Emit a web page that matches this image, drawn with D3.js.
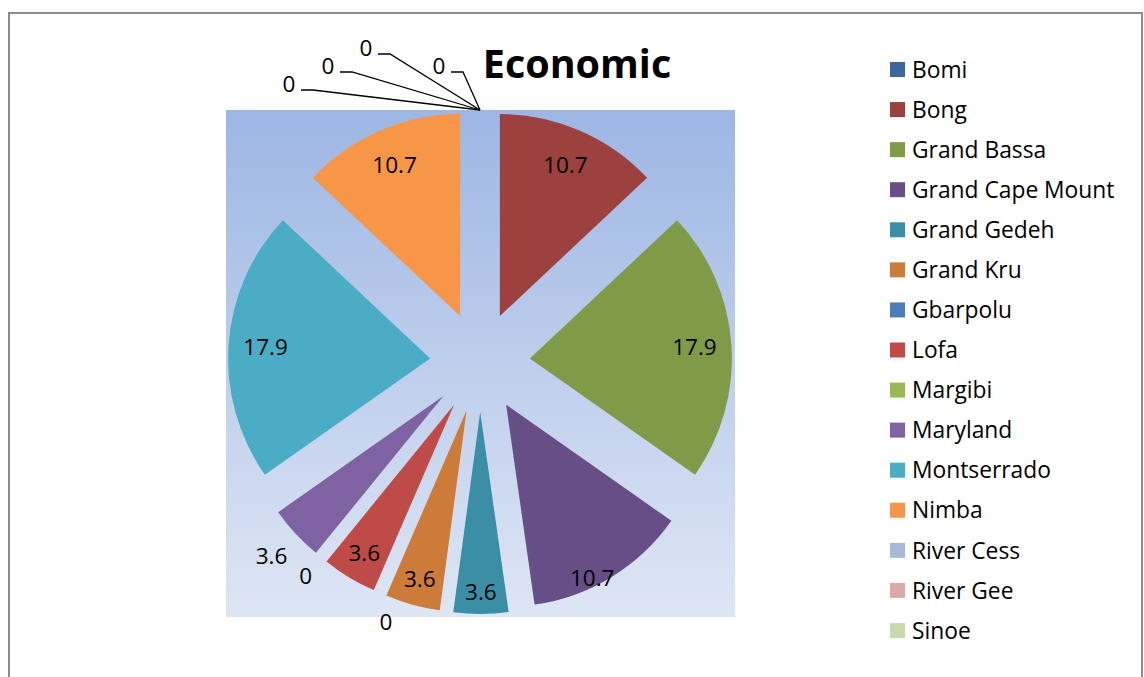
<!DOCTYPE html>
<html>
<head>
<meta charset="utf-8">
<script src="https://cdn.jsdelivr.net/npm/d3@7"></script>
<style>
  html, body { margin: 0; padding: 0; background: #fff; }
  svg { display: block; font-family: "Open Sans", sans-serif; }
</style>
</head>
<body>
<svg width="1144" height="677"></svg>
<script>
const counties = ["Bomi", "Bong", "Grand Bassa", "Grand Cape Mount", "Grand Gedeh", "Grand Kru",
  "Gbarpolu", "Lofa", "Margibi", "Maryland", "Montserrado", "Nimba", "River Cess", "River Gee", "Sinoe"];
const values = [0, 10.7, 17.9, 10.7, 3.6, 3.6, 0, 3.6, 0, 3.6, 17.9, 10.7, 0, 0, 0];
const colors = ["#3d679e", "#9d413e", "#7f9b48", "#674e86", "#3a8fa6", "#cd7b38", "#4a7ebb",
  "#be4b48", "#98b954", "#7e62a1", "#4bacc6", "#f79646", "#a7b9db", "#daa9a8", "#c8d9ae"];
const title = "Economic";

// label placement (distance from pie centre, angle nudge in degrees)
const labelDist = { "Grand Cape Mount": 243, "Grand Gedeh": 230, "Grand Kru": 225, "Lofa": 223, "Maryland": 285 };
const angleNudge = { "Grand Cape Mount": 4, "Gbarpolu": -3.5 };
// zero slices at the top get leader lines: [dx, dy] of text relative to the pie top
const leaderOffsets = { "Bomi": [-41, -44], "River Cess": [-114, -62], "River Gee": [-152, -44], "Sinoe": [-191, -26] };

const svg = d3.select("svg");
const cx = 480, cy = 362, r = 202, explode = 50;

// outer border
svg.append("rect")
  .attr("x", 9).attr("y", 13).attr("width", 1133).attr("height", 700)
  .attr("fill", "none").attr("stroke", "#8c8c8c").attr("stroke-width", 2);

// plot area gradient
const defs = svg.append("defs");
const grad = defs.append("linearGradient").attr("id", "plotBg")
  .attr("x1", 0).attr("y1", 0).attr("x2", 0).attr("y2", 1);
grad.append("stop").attr("offset", "0%").attr("stop-color", "#9db6e4");
grad.append("stop").attr("offset", "100%").attr("stop-color", "#dee6f4");

const ext = r + explode;
svg.append("rect")
  .attr("x", cx - ext - 2).attr("y", cy - ext)
  .attr("width", 2 * ext + 5).attr("height", 2 * ext + 3)
  .attr("fill", "url(#plotBg)");

const data = counties.map((name, i) => ({ name, value: values[i], color: colors[i] }));
const pie = d3.pie().value(d => d.value).sort(null);
const arcs = pie(data);
const arc = d3.arc().innerRadius(0).outerRadius(r);

const dir = a => [Math.sin(a), -Math.cos(a)];

const g = svg.append("g").attr("transform", `translate(${cx},${cy})`);

g.selectAll(".slice")
  .data(arcs.filter(d => d.data.value > 0))
  .enter()
  .append("path")
  .attr("class", "slice")
  .attr("d", arc)
  .attr("fill", d => d.data.color)
  .attr("transform", d => {
    const [x, y] = dir((d.startAngle + d.endAngle) / 2);
    return `translate(${x * explode},${y * explode})`;
  });

// data labels
const labelFont = 22.5;
arcs.forEach(d => {
  const name = d.data.name;
  if (leaderOffsets[name]) return;
  const a = (d.startAngle + d.endAngle) / 2 + (angleNudge[name] || 0) * Math.PI / 180;
  const dist = d.data.value > 0 ? (labelDist[name] || 215) : 276;
  const [x, y] = dir(a);
  g.append("text")
    .attr("x", x * dist).attr("y", y * dist)
    .attr("dy", "0.36em")
    .attr("text-anchor", "middle")
    .attr("font-size", labelFont)
    .attr("fill", "#000")
    .text(d.data.value);
});

// zero labels at the top with leader lines
const pieTop = [0, -(r + explode)];
Object.entries(leaderOffsets).forEach(([name, [dx, dy]]) => {
  const d = arcs.find(a => a.data.name === name);
  const tx = pieTop[0] + dx, ty = pieTop[1] + dy;
  g.append("text")
    .attr("x", tx).attr("y", ty)
    .attr("dy", "0.36em")
    .attr("text-anchor", "middle")
    .attr("font-size", labelFont)
    .text(d.data.value);
  g.append("polyline")
    .attr("points", [[tx + 12, ty + 6], [tx + 24, ty + 6], pieTop].map(p => p.join(",")).join(" "))
    .attr("fill", "none").attr("stroke", "#000").attr("stroke-width", 1.3);
});

// title
svg.append("text")
  .attr("x", 577).attr("y", 78)
  .attr("text-anchor", "middle")
  .attr("font-size", 39.5).attr("font-weight", "bold")
  .text(title);

// legend
const legend = svg.append("g").attr("transform", "translate(890,69.5)");
const rowH = 40.07;
data.forEach((d, i) => {
  const row = legend.append("g").attr("transform", `translate(0,${i * rowH})`);
  row.append("rect").attr("x", 0).attr("y", -7.5).attr("width", 15).attr("height", 15).attr("fill", d.color);
  row.append("text").attr("x", 22).attr("dy", "0.36em").attr("font-size", 22.8).text(d.name);
});
</script>
</body>
</html>
